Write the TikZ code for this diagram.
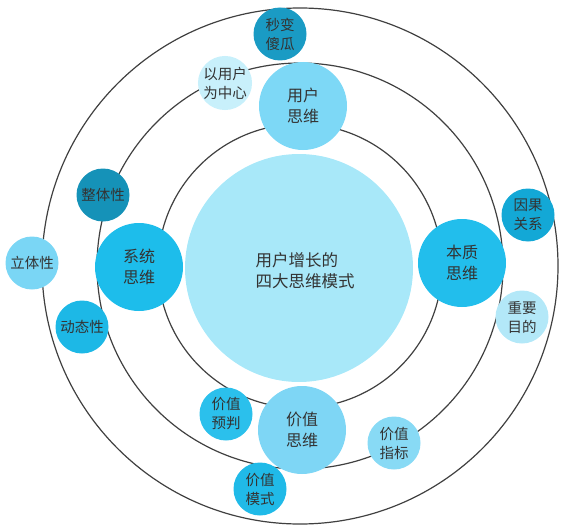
\documentclass[tikz,border=0pt]{standalone}
\usepackage{fontspec}
\setmainfont{Noto Sans CJK SC}
\begin{document}
\begin{tikzpicture}[x=1pt,y=-1pt,
  ring/.style={draw=black!75, line width=1.2pt},
  bub/.style={circle, inner sep=0pt, align=center, text=black!80,
    font=\fontsize{14.5}{19}\selectfont},
  big/.style={bub, minimum size=88pt, font=\fontsize{16}{21}\selectfont},
  small/.style={bub, minimum size=53pt}]
\useasboundingbox (0,0) rectangle (570,527);
\definecolor{cCore}{HTML}{A8E8F9}
\definecolor{cUser}{HTML}{7DD8F6}
\definecolor{cMiao}{HTML}{1A9BC4}
\definecolor{cYi}{HTML}{C8F0FB}
\definecolor{cSys}{HTML}{1DBDEB}
\definecolor{cZheng}{HTML}{1592B8}
\definecolor{cLi}{HTML}{7AD6F5}
\definecolor{cDong}{HTML}{1DB8E6}
\definecolor{cBen}{HTML}{22BEEC}
\definecolor{cYin}{HTML}{13A8D6}
\definecolor{cZhong}{HTML}{B3E8F8}
\definecolor{cVal}{HTML}{7ED6F5}
\definecolor{cYu}{HTML}{2BC0EC}
\definecolor{cMo}{HTML}{20BAE8}
\definecolor{cZhi}{HTML}{88DAF5}
% rings
\coordinate (o) at (300,266);
\draw[ring] (o) circle[radius=258];
\draw[ring] (o) circle[radius=203];
\draw[ring] (o) circle[radius=142];
% core
\node[circle, fill=cCore, minimum size=228pt, inner sep=0pt] (core) at (299,268) {};
\node[align=left, text=black!80, font=\fontsize{16.5}{21}\selectfont] (coretext) at (305,271) {用户增长的\\四大思维模式};
% four main
\node[big, fill=cUser] (user) at (303,106) {用户\\思维};
\node[big, fill=cSys] (sys) at (139,267) {系统\\思维};
\node[big, fill=cBen] (ben) at (462,263) {本质\\思维};
\node[big, fill=cVal] (val) at (302,430) {价值\\思维};
% satellites
\node[small, fill=cMiao] (miao) at (280,34) {秒变\\傻瓜};
\node[small, fill=cYi] (yi) at (225,83) {以用户\\为中心};
\node[small, fill=cZheng] (zheng) at (103,195) {整体性};
\node[small, fill=cLi] (li) at (32,263) {立体性};
\node[small, fill=cDong] (dong) at (82,327) {动态性};
\node[small, fill=cYin] (yin) at (528,215) {因果\\关系};
\node[small, fill=cZhong] (zhong) at (522,317) {重要\\目的};
\node[small, fill=cYu] (yu) at (226,414) {价值\\预判};
\node[small, fill=cMo] (mo) at (260,489) {价值\\模式};
\node[small, fill=cZhi] (zhi) at (394,443) {价值\\指标};
\end{tikzpicture}
\end{document}
